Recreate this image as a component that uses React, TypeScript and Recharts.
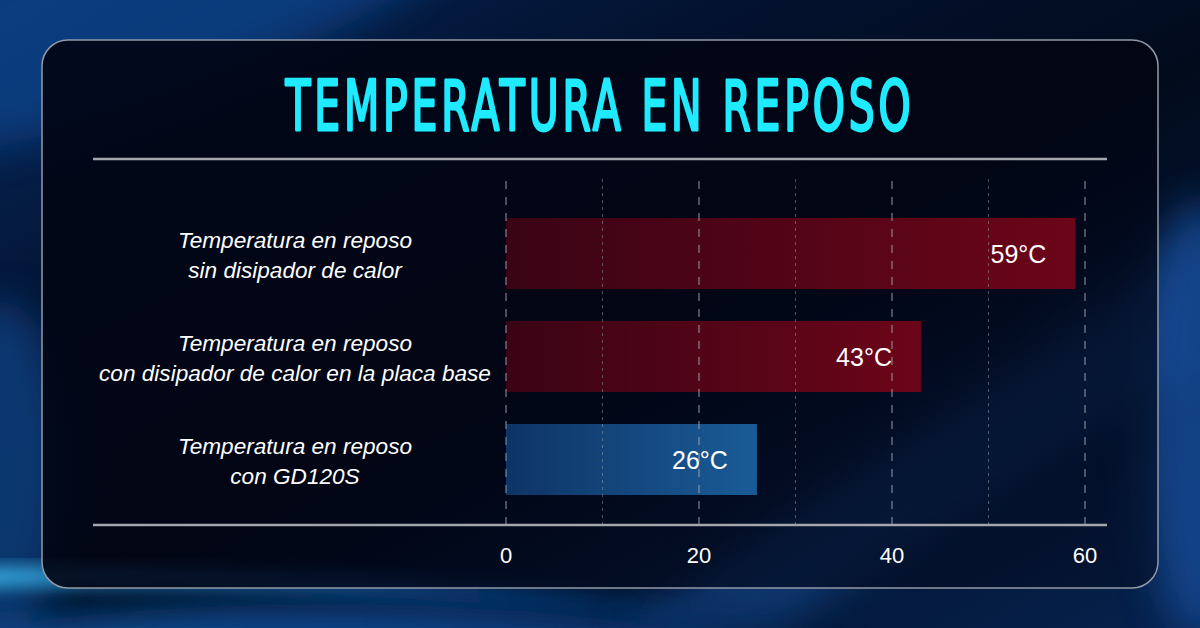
import React, { useLayoutEffect, useRef, useState } from "react";
import { BarChart, Bar, XAxis, YAxis, ReferenceLine, LabelList, Cell } from "recharts";

const categories = [
  "Temperatura en reposo\nsin disipador de calor",
  "Temperatura en reposo\ncon disipador de calor en la placa base",
  "Temperatura en reposo\ncon GD120S",
];
const temperatures = [59, 43, 26];
const barFills = ["url(#redBar)", "url(#redBar)", "url(#blueBar)"];
const xTicks = [0, 20, 40, 60];
const majorGrid = [0, 20, 40, 60];
const minorGrid = [10, 30, 50];
const titleText = "TEMPERATURA EN REPOSO";

const data = categories.map((name, i) => ({ name, value: temperatures[i] }));

const FONT = "'Liberation Sans', Arial, Helvetica, sans-serif";

const YTick = (props: any) => {
  const { y, payload } = props;
  const lines = String(payload.value).split("\n");
  return (
    <text
      x={295}
      y={y}
      textAnchor="middle"
      fill="#ffffff"
      fontSize={22.6}
      fontStyle="italic"
      fontFamily={FONT}
    >
      <tspan x={295} y={y - 6}>{lines[0]}</tspan>
      <tspan x={295} y={y + 24}>{lines[1]}</tspan>
    </text>
  );
};

const XTick = (props: any) => {
  const { x, y, payload } = props;
  return (
    <text x={x} y={y + 30} textAnchor="middle" fill="#ffffff" fontSize={22} fontFamily={FONT}>
      {payload.value}
    </text>
  );
};

const ValueLabel = (props: any) => {
  const { x, y, width, height, value } = props;
  return (
    <text
      x={x + width - 29}
      y={y + height / 2}
      textAnchor="end"
      dominantBaseline="central"
      fill="#ffffff"
      fontSize={25}
      fontFamily={FONT}
    >
      {`${value}°C`}
    </text>
  );
};

const Title = () => {
  const ref = useRef<SVGTextElement>(null);
  const [sx, setSx] = useState(0.68);
  useLayoutEffect(() => {
    if (ref.current) {
      const w = ref.current.getBBox().width;
      if (w > 0) setSx(630 / w);
    }
  }, []);
  return (
    <g transform={`translate(600,130) scale(${sx},1)`}>
      <text
        ref={ref}
        x={0}
        y={0}
        textAnchor="middle"
        fill="#20eaff"
        stroke="#20eaff"
        strokeWidth={2.8}
        strokeLinejoin="round"
        fontSize={70}
        letterSpacing={6}
        fontFamily="'DejaVu Sans Condensed', 'Liberation Sans Narrow', 'Liberation Sans', sans-serif"
      >
        {titleText}
      </text>
    </g>
  );
};

export default function App() {
  return (
    <div
      style={{
        position: "absolute",
        left: 0,
        top: 0,
        width: 1200,
        height: 628,
        overflow: "hidden",
        background: "#020a1a",
      }}
    >
      <svg width={1200} height={628} style={{ position: "absolute", left: 0, top: 0 }}>
        <defs>
          <linearGradient id="redBar" x1="0" y1="0" x2="1" y2="0">
            <stop offset="0%" stopColor="#3a0415" />
            <stop offset="100%" stopColor="#6c0519" />
          </linearGradient>
          <linearGradient id="blueBar" x1="0" y1="0" x2="1" y2="0">
            <stop offset="0%" stopColor="#0e3466" />
            <stop offset="100%" stopColor="#1a5b97" />
          </linearGradient>
          <linearGradient id="baseBg" x1="0" y1="0" x2="1" y2="1">
            <stop offset="0%" stopColor="#07285a" />
            <stop offset="30%" stopColor="#031230" />
            <stop offset="55%" stopColor="#020b1c" />
            <stop offset="100%" stopColor="#06224e" />
          </linearGradient>
          <linearGradient id="swooshStroke" x1="0" y1="0" x2="1" y2="0">
            <stop offset="0%" stopColor="#38b0de" stopOpacity={0.95} />
            <stop offset="30%" stopColor="#1f78c0" stopOpacity={0.8} />
            <stop offset="70%" stopColor="#0d4a95" stopOpacity={0.5} />
            <stop offset="100%" stopColor="#0d4a95" stopOpacity={0} />
          </linearGradient>
          <linearGradient id="bottomGlow" x1="0" y1="0" x2="1" y2="0">
            <stop offset="0%" stopColor="#135aa8" />
            <stop offset="60%" stopColor="#0c468e" />
            <stop offset="100%" stopColor="#062a60" />
          </linearGradient>
          <linearGradient id="panelFill" x1="0" y1="0" x2="1" y2="1">
            <stop offset="0%" stopColor="rgba(2,6,22,0.94)" />
            <stop offset="50%" stopColor="rgba(1,4,18,0.88)" />
            <stop offset="100%" stopColor="rgba(3,14,40,0.6)" />
          </linearGradient>
          <filter id="blur20" x="-50%" y="-50%" width="200%" height="200%">
            <feGaussianBlur stdDeviation="20" />
          </filter>
          <filter id="blur8" x="-50%" y="-50%" width="200%" height="200%">
            <feGaussianBlur stdDeviation="8" />
          </filter>
        </defs>
        <rect x={0} y={0} width={1200} height={628} fill="url(#baseBg)" />
        <ellipse cx={120} cy={20} rx={380} ry={90} fill="#0c4690" opacity={0.7} filter="url(#blur20)" transform="rotate(-18 120 20)" />
        <ellipse cx={0} cy={470} rx={70} ry={170} fill="#0b3f80" opacity={0.8} filter="url(#blur20)" />
        <path d="M-100,640 Q200,590 500,610 Q750,625 900,700 L-100,700 Z" fill="url(#bottomGlow)" opacity={0.9} filter="url(#blur20)" />
        <path d="M-40,578 Q250,568 700,612" fill="none" stroke="url(#swooshStroke)" strokeWidth={22} filter="url(#blur8)" />
        <path d="M620,628 L1200,230 L1200,360 L780,628 Z" fill="#14509a" opacity={0.55} filter="url(#blur20)" />
        <ellipse cx={1200} cy={420} rx={60} ry={220} fill="#124c96" opacity={0.8} filter="url(#blur20)" />
        <rect
          x={42}
          y={40}
          width={1116}
          height={548}
          rx={26}
          ry={26}
          fill="url(#panelFill)"
          stroke="#9299a4"
          strokeWidth={1.5}
        />
        <Title />
        <line x1={93} x2={1107} y1={159} y2={159} stroke="#a3a7ad" strokeWidth={2.5} />
        <line x1={93} x2={1107} y1={525} y2={525} stroke="#a3a7ad" strokeWidth={2.5} />
      </svg>
      <div style={{ position: "absolute", left: 0, top: 0 }}>
        <BarChart
          width={1200}
          height={628}
          data={data}
          layout="vertical"
          margin={{ top: 176, right: 115, bottom: 73, left: 0 }}
        >
          <XAxis
            type="number"
            domain={[0, 60]}
            ticks={xTicks}
            axisLine={false}
            tickLine={false}
            tick={<XTick />}
            height={30}
            interval={0}
          />
          <YAxis
            type="category"
            dataKey="name"
            width={506}
            axisLine={false}
            tickLine={false}
            tick={<YTick />}
            padding={{ top: 26, bottom: 14 }}
            interval={0}
          />
          <Bar dataKey="value" barSize={71} isAnimationActive={false}>
            {data.map((_, i) => (
              <Cell key={i} fill={barFills[i]} />
            ))}
            <LabelList dataKey="value" content={<ValueLabel />} />
          </Bar>
          {majorGrid.map((v) => (
            <ReferenceLine
              key={`M${v}`}
              x={v}
              stroke="rgba(165,170,180,0.6)"
              strokeWidth={1.5}
              strokeDasharray="8 8"
            />
          ))}
          {minorGrid.map((v) => (
            <ReferenceLine
              key={`m${v}`}
              x={v}
              stroke="rgba(150,155,165,0.5)"
              strokeWidth={1}
              strokeDasharray="3 4"
            />
          ))}
        </BarChart>
      </div>
    </div>
  );
}
